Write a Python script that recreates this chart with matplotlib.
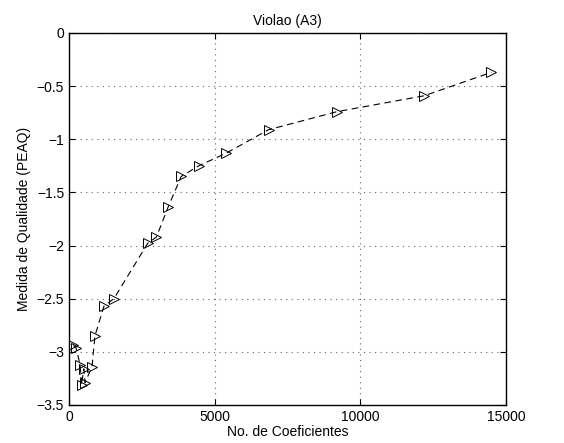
import numpy as np
import matplotlib
matplotlib.use('Agg')
import matplotlib.pyplot as plt

coefs = [150, 240, 380, 430, 510, 550, 790, 890, 1200, 1540, 2700, 3000, 3400,
         3850, 4450, 5400, 6850, 9200, 12200, 14500]
peaq = [-2.94, -2.96, -3.12, -3.31, -3.16, -3.29, -3.14, -2.85, -2.57, -2.50, -1.98,
        -1.92, -1.64, -1.35, -1.25, -1.13, -0.91, -0.74, -0.59, -0.37]

plt.rcParams['font.family'] = ['Liberation Sans', 'DejaVu Sans']
plt.rcParams['font.size'] = 10

fig = plt.figure(figsize=(5.64, 4.43), dpi=100)
ax = fig.add_axes([69/564, 1-405/443, 437/564, 372/443])
ax.plot(coefs, peaq, '--', color='black', linewidth=0.8, dashes=(6, 4),
        marker='>', markersize=7.5, markerfacecolor='none', markeredgecolor='black',
        markeredgewidth=0.7)
ax.set_xlim(0, 15000)
ax.set_ylim(-3.5, 0)
ax.set_xticks(np.arange(0, 15001, 5000))
ax.set_yticks(np.arange(-3.5, 0.01, 0.5))
ax.set_yticklabels(['\u22123.5', '\u22123', '\u22122.5', '\u22122', '\u22121.5',
                    '\u22121', '\u22120.5', '0'])
ax.grid(True, linestyle=(0, (1, 4)), color='#666666', linewidth=0.8)
ax.tick_params(direction='in', top=True, right=True, length=4)
for s in ax.spines.values():
    s.set_linewidth(1.0)
ax.set_title('Violao (A3)', fontsize=10)
ax.set_xlabel('No. de Coeficientes', labelpad=1)
ax.set_ylabel('Medida de Qualidade (PEAQ)', labelpad=4)
fig.savefig('out.png', dpi=100)
